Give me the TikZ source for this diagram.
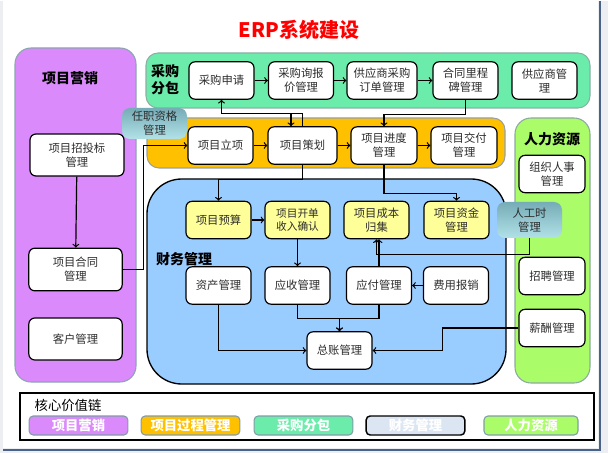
\documentclass[tikz,border=0pt]{standalone}
\usepackage{fontspec}
\setmainfont{Noto Sans CJK SC}
\usetikzlibrary{arrows}

\begin{document}
\begin{tikzpicture}[x=0.75pt,y=0.75pt,yscale=-1,xscale=1,
  box/.style={draw=black, line width=0.9pt, rounded corners=4.5pt, fill=white, minimum width=48.75pt, minimum height=28pt, inner sep=1pt, align=center, font=\fontsize{8.5}{10.5}\selectfont, text={rgb,255:red,45;green,45;blue,45}},
  ybox/.style={box, fill={rgb,255:red,255;green,255;blue,153}},
  badge/.style={rounded corners=6pt, top color={rgb,255:red,118;green,172;blue,182}, bottom color={rgb,255:red,178;green,226;blue,232}, minimum width=48.75pt, minimum height=24pt, inner sep=1pt, align=center, font=\fontsize{8.5}{10.5}\selectfont, text={rgb,255:red,45;green,45;blue,45}},
  head/.style={align=center, font=\fontsize{10.5}{12}\selectfont\bfseries},
  pill/.style={draw={rgb,255:red,128;green,156;blue,168}, line width=0.8pt, rounded corners=3pt, minimum width=74pt, minimum height=14.25pt, inner sep=0pt, text=white, font=\fontsize{10}{11}\selectfont\bfseries},
  link/.style={->, >=to, line width=0.9pt, draw=black}]

%Shape: page
\fill [fill={rgb, 255:red, 236; green, 238; blue, 241 }] (0,0) rectangle (608,452) ;
\fill [fill=white] (3,0) rectangle (598,447) ;
\draw [draw={rgb, 255:red, 72; green, 98; blue, 138 }, line width=1.5pt] (599.5,0) -- (599.5,448.5) -- (3,448.5) ;

% Text Node
\node (title) at (299,29) [text={rgb,255:red,255;green,0;blue,0}, font=\fontsize{15}{18}\selectfont\bfseries] {ERP系统建设};

%Shape: Rounded Rect [项目营销]
\draw [draw={rgb, 255:red, 140; green, 165; blue, 178 }, fill={rgb, 255:red, 218; green, 138; blue, 250 }, line width=0.8pt, rounded corners=12pt] (15,47) rectangle (136,381) ;
%Shape: Rounded Rect [采购分包]
\draw [draw={rgb, 255:red, 140; green, 175; blue, 165 }, fill={rgb, 255:red, 108; green, 236; blue, 170 }, line width=0.8pt, rounded corners=9pt] (146,52) rectangle (590,107) ;
%Shape: Rounded Rect [项目过程管理]
\draw [draw={rgb, 255:red, 150; green, 160; blue, 165 }, fill={rgb, 255:red, 255; green, 192; blue, 0 }, line width=0.8pt, rounded corners=9pt] (147,117) rectangle (505,167) ;
%Shape: Rounded Rect [财务管理]
\draw [draw=black, fill={rgb, 255:red, 153; green, 204; blue, 255 }, line width=1pt, rounded corners=26pt] (147,178) rectangle (506,383) ;
%Shape: Rounded Rect [人力资源]
\draw [draw={rgb, 255:red, 140; green, 170; blue, 160 }, fill={rgb, 255:red, 170; green, 252; blue, 104 }, line width=0.8pt, rounded corners=12pt] (515,117) rectangle (590,382) ;

% panel titles
\node (hyx) at (70,77) [head] {项目营销};
\node (hcg) at (165,79) [head, font=\fontsize{10.5}{13}\selectfont\bfseries] {采购\\分包};
\node (hcw) at (184,258) [head] {财务管理};
\node (hrl) at (552,138) [head] {人力资源};

% 项目营销
\node (ztb) at (77,154) [box, minimum width=70.5pt, minimum height=31.5pt] {项目招投标\\管理};
\node (ht) at (75.5,268.5) [box, minimum width=70pt, minimum height=32pt] {项目合同\\管理};
\node (kh) at (75.5,338) [box, minimum width=70pt, minimum height=31.5pt] {客户管理};

% 采购分包
\node (cg1) at (221.5,79.5) [box] {采购申请};
\node (cg2) at (301,79.5) [box] {采购询报\\价管理};
\node (cg3) at (382,79.5) [box, minimum width=52.5pt] {供应商采购\\订单管理};
\node (cg4) at (465.5,79.5) [box] {合同里程\\碑管理};
\node (cg5) at (544.5,79.5) [box] {供应商管\\理};

% 项目过程管理
\node (lx) at (220.5,144.5) [box] {项目立项};
\node (ch) at (302.5,144.5) [box, minimum width=51.75pt] {项目策划};
\node (jd) at (384,144.5) [box, minimum width=49.5pt] {项目进度\\管理};
\node (jf) at (464,144.5) [box, minimum width=49.5pt] {项目交付\\管理};

% 财务管理
\node (ys) at (218.5,219) [ybox] {项目预算};
\node (kd) at (297.5,219) [ybox, font=\fontsize{8}{9.5}\selectfont] {项目开单\\收入确认};
\node (cb) at (376.5,219) [ybox] {项目成本\\归集};
\node (zj) at (456.5,219) [ybox] {项目资金\\管理};
\node (zc) at (218.5,284.5) [box] {资产管理};
\node (ysk) at (297.5,284.5) [box] {应收管理};
\node (yf) at (379,284.5) [box] {应付管理};
\node (fy) at (456,284.5) [box] {费用报销};
\node (zz) at (339.5,349.5) [box] {总账管理};

% 人力资源
\node (zs) at (552,173) [box, minimum width=49.5pt] {组织人事\\管理};
\node (zp) at (552,275) [box, minimum width=49.5pt] {招聘管理};
\node (xc) at (552,327) [box, minimum width=49.5pt] {薪酬管理};

% badges
\node (rz) at (154.5,122.5) [badge, minimum height=23.25pt] {任职资格\\管理};
\node (rg) at (529.5,219) [badge, minimum height=27pt] {人工时\\管理};

% connectors
\draw [link] (ztb) -- (ht) ;
\draw [link] (ht.east) -- ++(21,0) |- (lx.west) ;
\draw [link] (cg1) -- (cg2) ;
\draw [link] (cg2) -- (cg3) ;
\draw [link] (cg3) -- (cg4) ;
\draw [link] (lx) -- (ch) ;
\draw [link] (ch) -- (jd) ;
\draw [link] (jd) -- (jf) ;
\draw [link] (ch.north) -- ++(0,-13) -| (cg1.south) ;
\coordinate (tb) at (291,113) ;
\draw [link] (tb) -- (tb |- ch.north) ;
\draw [link] (ch.south) -- ++(0,15) -| (ys.north) ;
\draw [link] (cg4.south) -- ++(0,15) -| (jd.north) ;
\draw [link] (jd.south) -- ++(0,29) -| (zj.north) ;
\draw [link] (ys) -- (kd) ;
\draw [link] (kd) -- (ysk) ;
\draw [link] (fy) -- (yf) ;
\draw [link] (yf.north) -- (yf.north |- cb.south) ;
\draw [link] (rg.south) -- ++(0,16) -| (cb.south) ;
\draw [link] (zc.south) |- (zz.west) ;
\draw [link] (ysk.south) -- ++(0,14) -| (zz.north) ;
\draw [link] (yf.south) -- ++(0,14) -| (zz.north) ;
\draw [link] (xc.west) -- ++(-76,0) |- (zz.east) ;

% legend
\draw [line width=0.9pt] (20,392) rectangle (594,439) ;
\node (hx) at (30,404) [anchor=west, font=\fontsize{10}{12}\selectfont] {核心价值链};
\node (l1) at (78.5,424.5) [pill, fill={rgb,255:red,218;green,138;blue,250}] {项目营销};
\node (l2) at (190.5,424.5) [pill, fill={rgb,255:red,255;green,192;blue,0}] {项目过程管理};
\node (l3) at (303.5,424.5) [pill, fill={rgb,255:red,108;green,236;blue,170}] {采购分包};
\node (l4) at (415.5,424.5) [pill, draw=black, line width=1.1pt, fill={rgb,255:red,220;green,230;blue,242}] {财务管理};
\node (l5) at (531,424.5) [pill, minimum width=70.5pt, fill={rgb,255:red,170;green,252;blue,104}] {人力资源};

\end{tikzpicture}
\end{document}
